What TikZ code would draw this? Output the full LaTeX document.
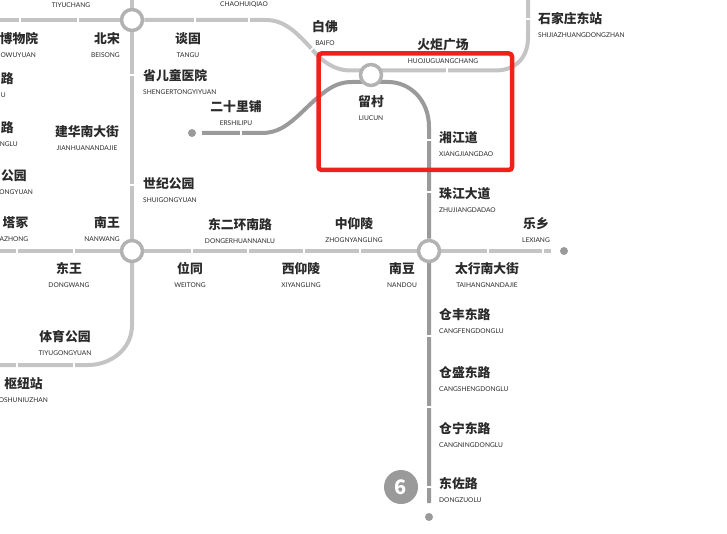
\documentclass[tikz,border=0pt]{standalone}
\usepackage{fontspec}
\setmainfont{Lato}
\newfontfamily\cjkf{Noto Sans CJK SC}
\usepackage{xcolor}
\definecolor{line-light}{HTML}{C4C4C4}
\definecolor{line-six}{HTML}{9A9A9A}
\definecolor{hub-ring}{HTML}{B2B2B2}
\definecolor{stn-text}{HTML}{2A2A2A}
\definecolor{focus-red}{HTML}{F0201A}
\usetikzlibrary{backgrounds}
\newcommand{\cn}{\fontsize{12.8}{14}\selectfont\cjkf\bfseries}

\begin{document}
\begin{tikzpicture}[
  x=1pt, y=-1pt,
  stn/.style={inner sep=0pt, align=center, text=stn-text, font=\fontsize{6.6}{14}\selectfont},
  stnw/.style={stn, anchor=west, align=left},
  stne/.style={stn, anchor=east, align=right},
  hub/.style={circle, draw=hub-ring, line width=3.5pt, fill=white, minimum size=21pt, inner sep=0pt},
  termdot/.style={circle, fill=line-six, minimum size=8pt, inner sep=0pt},
  badge/.style={circle, fill=line-six, minimum size=34pt, inner sep=0pt, text=white, font=\fontsize{20}{20}\selectfont\cjkf\bfseries},
  lightln/.style={line-light, line width=4pt},
  sixln/.style={line-six, line width=4pt},
  gapv/.style={white, line width=1.6pt},
  focus/.style={rectangle, draw=focus-red, line width=4.5pt, rounded corners=3pt, minimum width=193.5pt, minimum height=116.5pt, inner sep=0pt}
]
  \useasboundingbox (0,0) rectangle (727,534);

  \node[hub] (hubnorth) at (132,20) {};
  \node[hub] (hubsouth) at (132,251) {};
  \node[hub] (hubliu)   at (371,75) {};
  \node[hub] (hubnan)   at (429,251) {};
  \node[termdot] (termer)  at (192,133) {};
  \node[termdot] (termle)  at (564,251) {};
  \node[termdot] (termzuo) at (429,517) {};
  \node[badge] (six) at (401,487) {6};

  \coordinate (lfttop) at (0,20);
  \coordinate (lftmid) at (0,251);
  \coordinate (lftlow) at (0,365);
  \coordinate (uptop)  at (132,0);
  \coordinate (uprgt)  at (528,0);
  \coordinate (erend)  at (202,133);
  \coordinate (leend)  at (551,251);
  \coordinate (zuoend) at (429,503);

  \begin{scope}[on background layer]
    \draw[lightln] (lfttop) -- (hubnorth);
    \draw[lightln] (uptop) -- (hubnorth) -- (hubsouth);
    \draw[lightln] (lftmid) -- (hubsouth) -- (hubnan);
    \draw[lightln] (hubnorth) -- (266,20) .. controls (284,20) and (296,32) .. (310,47)
      .. controls (322,62) and (335,70.5) .. (350,70.5) -- (495,70.5)
      .. controls (518,70.5) and (528,55) .. (528,38) -- (uprgt);
    \draw[lightln] (hubsouth) -- (132,325) .. controls (132,350) and (110,365) .. (88,365) -- (lftlow);
    \draw[lightln] (hubnan) -- (leend);
    \draw[sixln] (erend) -- (262,133) .. controls (278,133) and (288,125) .. (300,114)
      .. controls (322,93) and (333,82) .. (352,82) -- (388,82)
      .. controls (410,82) and (429,100) .. (429,127) -- (hubnan) -- (zuoend);
  \end{scope}

  \foreach \x in {20,78,195,249} \draw[gapv] (\x,17) -- (\x,23);
  \foreach \x in {17,74,192,248,304,360,488,543} \draw[gapv] (\x,248) -- (\x,254);
  \foreach \x in {17,74} \draw[gapv] (\x,362) -- (\x,368);
  \draw[gapv] (241,130) -- (241,136);
  \draw[gapv] (314,47) -- (309,52);
  \draw[gapv] (447,67.5) -- (447,73.5);
  \foreach \y in {75,185} \draw[gapv] (129,\y) -- (135,\y);
  \draw[gapv] (525,19) -- (531,19);
  \foreach \y in {140,192,336,407,487} \draw[gapv] (426,\y) -- (432,\y);

  \node[stn] (tiyuchang) at (71,5) {TIYUCHANG};
  \node[stn] (chaohuiqiao) at (244,5) {CHAOHUIQIAO};
  \node[stne] (bowuyuan) at (38.5,45) {{\cn 博物院}\\OWUYUAN\hspace*{2.5pt}};
  \node[stne] (topleftlu) at (14,85) {{\cn 路}\\U\hspace*{8pt}};
  \node[stne] (midleftlu) at (18,134) {{\cn 路\hspace*{4pt}}\\NGLU};
  \node[stne] (gongyuan) at (33,182) {{\cn 公园\hspace*{6pt}}\\ONGYUAN};
  \node[stne] (tazhong) at (28.5,229) {{\cn 塔冢}\\AZHONG};
  \node[stne] (shuniu) at (48,390) {{\cn 枢纽站\hspace*{5pt}}\\OSHUNIUZHAN};
  \node[stne] (beisong) at (120,45) {{\cn 北宋}\\BEISONG};
  \node[stn] (tangu) at (188,45) {{\cn 谈固}\\TANGU};
  \node[stnw] (shengertong) at (143,82) {{\cn 省儿童医院}\\SHENGERTONGYIYUAN};
  \node[stn] (ershilipu) at (236,113) {{\cn 二十里铺}\\ERSHILIPU};
  \node[stn] (jianhua) at (87,138) {{\cn 建华南大街}\\JIANHUANANDAJIE};
  \node[stnw] (shiji) at (143,190) {{\cn 世纪公园}\\SHUIGONGYUAN};
  \node[stne] (nanwang) at (120,229) {{\cn 南王}\\NANWANG};
  \node[stn] (dongwang) at (69,275) {{\cn 东王}\\DONGWANG};
  \node[stn] (weitong) at (190,275) {{\cn 位同}\\WEITONG};
  \node[stn] (donger) at (240,231) {{\cn 东二环南路}\\DONGERHUANNANLU};
  \node[stn] (xiyangling) at (301,275) {{\cn 西仰陵}\\XIYANGLING};
  \node[stn] (zhongyang) at (354,230) {{\cn 中仰陵}\\ZHOGNYANGLING};
  \node[stn] (nandou) at (402,275) {{\cn 南豆}\\NANDOU};
  \node[stn] (taihang) at (487,275) {{\cn 太行南大街}\\TAIHANGNANDAJIE};
  \node[stn] (lexiang) at (536,230) {{\cn 乐乡}\\LEXIANG};
  \node[stn] (tiyu) at (65,343) {{\cn 体育公园}\\TIYUGONGYUAN};
  \node[stn] (baifo) at (325,33) {{\cn 白佛}\\BAIFO};
  \node[stn] (huoju) at (443,51) {{\cn 火炬广场}\\HUOJUGUANGCHANG};
  \node[stn] (liucun) at (371,108) {{\cn 留村}\\LIUCUN};
  \node[stnw] (sjzdong) at (538,25) {{\cn 石家庄东站}\\SHIJIAZHUANGDONGZHAN};
  \node[stnw] (xiangjiang) at (439,144) {{\cn 湘江道}\\XIANGJIANGDAO};
  \node[stnw] (zhujiang) at (439,200) {{\cn 珠江大道}\\ZHUJIANGDADAO};
  \node[stnw] (cangfeng) at (439,321) {{\cn 仓丰东路}\\CANGFENGDONGLU};
  \node[stnw] (cangsheng) at (439,379) {{\cn 仓盛东路}\\CANGSHENGDONGLU};
  \node[stnw] (cangning) at (439,435) {{\cn 仓宁东路}\\CANGNINGDONGLU};
  \node[stnw] (dongzuo) at (439,490) {{\cn 东佐路}\\DONGZUOLU};

  \node[focus] (focusbox) at (415.25,111.75) {};
\end{tikzpicture}
\end{document}
